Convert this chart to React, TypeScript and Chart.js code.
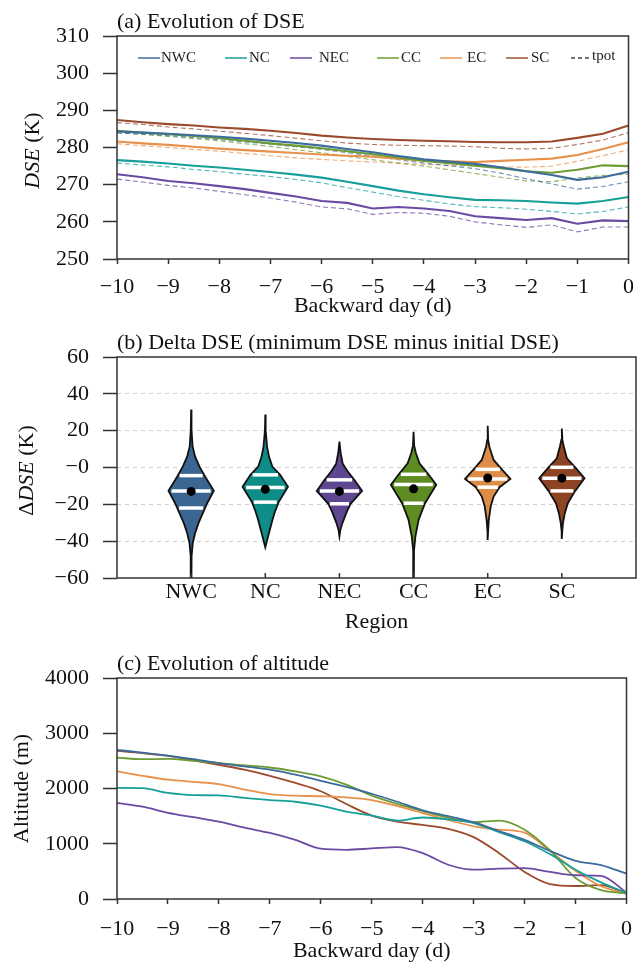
import React, { useEffect, useRef } from 'react';
import { Chart, registerables } from 'chart.js';

Chart.register(...registerables);

const SERIF = '"Liberation Serif", "Times New Roman", Times, serif';
Chart.defaults.font.family = SERIF;
Chart.defaults.color = '#111';

// ---------------- data ----------------
const DAYS = [-10, -9.5, -9, -8.5, -8, -7.5, -7, -6.5, -6, -5.5, -5, -4.5, -4, -3.5, -3, -2.5, -2, -1.5, -1, -0.5, 0];
const REGIONS = ['NWC', 'NC', 'NEC', 'CC', 'EC', 'SC'];

const DSE_NWC = [284.3, 284.0, 283.7, 283.3, 282.9, 282.4, 281.8, 281.2, 280.5, 279.6, 278.7, 277.7, 276.8, 276.2, 275.6, 274.7, 273.6, 272.6, 271.3, 272.0, 273.5];
const DSE_NC = [276.6, 276.2, 275.7, 275.1, 274.6, 274.0, 273.4, 272.7, 271.9, 270.8, 269.6, 268.4, 267.4, 266.6, 265.9, 265.8, 265.6, 265.2, 264.9, 265.6, 266.7];
const DSE_NEC = [272.8, 272.0, 271.0, 270.4, 269.6, 268.8, 267.8, 266.8, 265.6, 265.1, 263.6, 264.0, 263.6, 262.9, 261.5, 261.0, 260.5, 261.0, 259.5, 260.4, 260.2];
const DSE_CC = [284.5, 284.0, 283.6, 283.1, 282.5, 281.8, 281.1, 280.5, 279.8, 279.0, 278.2, 277.3, 276.4, 275.8, 275.1, 274.4, 273.6, 273.2, 274.0, 275.2, 275.0];
const DSE_EC = [281.6, 281.1, 280.7, 280.2, 279.7, 279.3, 278.9, 278.5, 278.1, 277.8, 277.5, 277.0, 276.5, 276.3, 276.1, 276.4, 276.7, 277.0, 278.0, 279.6, 281.4];
const DSE_SC = [287.4, 286.8, 286.3, 285.9, 285.4, 285.0, 284.5, 283.9, 283.2, 282.7, 282.3, 282.0, 281.8, 281.7, 281.5, 281.4, 281.4, 281.6, 282.6, 283.7, 285.9];

const TPOT_NWC = [283.9, 283.6, 283.2, 282.7, 282.1, 281.5, 280.9, 280.2, 279.5, 278.6, 277.7, 276.7, 275.8, 275.1, 274.3, 273.1, 271.6, 270.2, 268.8, 269.5, 270.8];
const TPOT_NC = [275.8, 275.3, 274.8, 274.1, 273.5, 272.8, 272.2, 271.4, 270.5, 269.2, 268.0, 266.8, 265.8, 264.8, 264.1, 263.8, 263.4, 262.8, 262.1, 262.8, 264.0];
const TPOT_NEC = [271.5, 270.7, 269.8, 269.1, 268.2, 267.3, 266.4, 265.3, 264.0, 263.5, 262.0, 262.5, 262.3, 261.5, 260.0, 259.2, 258.5, 259.2, 257.3, 258.6, 258.6];
const TPOT_CC = [284.0, 283.5, 283.0, 282.4, 281.8, 281.0, 280.3, 279.4, 278.6, 277.6, 276.7, 275.8, 275.0, 274.0, 273.0, 272.0, 271.0, 270.8, 271.8, 272.5, 272.8];
const TPOT_EC = [281.0, 280.5, 280.0, 279.5, 279.0, 278.4, 277.8, 277.2, 276.8, 276.4, 276.1, 275.8, 275.5, 275.2, 275.0, 274.8, 274.7, 275.0, 276.3, 277.8, 279.4];
const TPOT_SC = [286.7, 286.2, 285.5, 285.0, 284.4, 283.8, 283.2, 282.5, 281.8, 281.2, 280.8, 280.6, 280.5, 280.4, 280.2, 279.8, 279.6, 279.8, 280.8, 282.0, 284.0];

const ALT_NWC = [2700, 2650, 2595, 2530, 2460, 2400, 2340, 2250, 2140, 2030, 1905, 1760, 1605, 1500, 1390, 1230, 1070, 870, 690, 615, 460];
const ALT_NC = [2010, 2005, 1920, 1880, 1875, 1830, 1790, 1760, 1690, 1580, 1510, 1420, 1475, 1440, 1375, 1210, 1045, 810, 530, 300, 110];
const ALT_NEC = [1740, 1670, 1560, 1480, 1400, 1290, 1195, 1070, 910, 890, 915, 940, 830, 620, 530, 550, 560, 490, 430, 420, 115];
const ALT_CC = [2560, 2530, 2535, 2500, 2460, 2420, 2380, 2310, 2220, 2070, 1870, 1720, 1590, 1470, 1390, 1420, 1255, 880, 380, 160, 100];
const ALT_EC = [2310, 2230, 2160, 2120, 2080, 1980, 1900, 1870, 1860, 1840, 1790, 1680, 1555, 1430, 1315, 1255, 1200, 870, 510, 230, 95];
const ALT_SC = [2680, 2640, 2590, 2510, 2430, 2340, 2230, 2100, 1950, 1720, 1510, 1400, 1340, 1270, 1120, 830, 490, 270, 235, 250, 95];

// violin profiles: [ΔDSE value, half width in category units]
const VIOLIN_NWC = [[31.5, 0], [20.3, 0.005], [11.3, 0.02], [5.9, 0.054], [0.5, 0.113], [-5, 0.189], [-12.7, 0.306], [-19.4, 0.216], [-24.8, 0.158], [-30.2, 0.099], [-35.6, 0.054], [-41, 0.022], [-48.3, 0.006], [-62, 0.004]];
const VIOLIN_NC = [[28.8, 0], [20, 0.005], [11.3, 0.024], [5.9, 0.05], [0.5, 0.095], [-4, 0.2], [-10.4, 0.306], [-18.8, 0.18], [-24, 0.13], [-28.4, 0.097], [-35.6, 0.05], [-41, 0.015], [-43.4, 0]];
const VIOLIN_NEC = [[14, 0], [8, 0.016], [2, 0.045], [-2, 0.11], [-6.7, 0.2], [-12.7, 0.306], [-19.7, 0.15], [-24, 0.1], [-30.2, 0.04], [-34, 0.012], [-37.4, 0]];
const VIOLIN_CC = [[19.4, 0], [12, 0.008], [8, 0.03], [2.3, 0.08], [-3.7, 0.2], [-9.4, 0.306], [-19.4, 0.155], [-24, 0.11], [-28.4, 0.068], [-37.4, 0.025], [-45, 0.006], [-62, 0.004]];
const VIOLIN_EC = [[22.7, 0], [15, 0.006], [11.3, 0.022], [4.1, 0.08], [-1, 0.19], [-6.2, 0.306], [-10.7, 0.16], [-15.8, 0.08], [-21.2, 0.04], [-28.4, 0.015], [-35, 0.005], [-38.9, 0]];
const VIOLIN_SC = [[21.2, 0], [15, 0.007], [11.3, 0.027], [5, 0.068], [0.1, 0.18], [-5.8, 0.306], [-12.7, 0.18], [-19.4, 0.08], [-24.8, 0.04], [-30.2, 0.015], [-35, 0.005], [-38.3, 0]];

const Q_UPPER = [-4.4, -4, -6.7, -3.7, -1, 0.1];
const Q_MEDIAN = [-12.7, -10.8, -12.7, -9.2, -6.2, -5.8];
const Q_LOWER = [-22, -18.8, -19.7, -19.4, -10.7, -12.7];
const MEANS = [-13, -11.8, -13, -11.6, -5.7, -5.8];

// ---------------- styles ----------------
const LINE_COLORS = ['#3c6c9c', '#17a09a', '#6a4aa2', '#6c9c32', '#e8914b', '#9b4a2b'];
const DASH_COLORS = ['rgba(60,108,156,0.75)', 'rgba(23,160,154,0.75)', 'rgba(106,74,162,0.75)', 'rgba(108,156,50,0.75)', 'rgba(232,145,75,0.75)', 'rgba(155,74,43,0.75)'];
const LEGEND_COLORS = ['#6f93b8', '#56b8b3', '#8f78b8', '#92b866', '#efb27f', '#b47c62'];
const VIOLIN_COLORS = ['#3a6691', '#0e8c88', '#5e4690', '#5e8c22', '#dd8d48', '#8d4422'];

const DSE = [DSE_NWC, DSE_NC, DSE_NEC, DSE_CC, DSE_EC, DSE_SC];
const TPOT = [TPOT_NWC, TPOT_NC, TPOT_NEC, TPOT_CC, TPOT_EC, TPOT_SC];
const ALT = [ALT_NWC, ALT_NC, ALT_NEC, ALT_CC, ALT_EC, ALT_SC];
const VIOLINS = [VIOLIN_NWC, VIOLIN_NC, VIOLIN_NEC, VIOLIN_CC, VIOLIN_EC, VIOLIN_SC];

const font = (size: number, italic = false) => `${italic ? 'italic ' : ''}${size}px ${SERIF}`;
const minus = (v: any) => String(v).replace('-', '\u2212');
const pts = (arr: number[]) => DAYS.map((d, k) => ({ x: d, y: arr[k] }));

function widthAt(profile: number[][], v: number) {
  for (let k = 0; k < profile.length - 1; k++) {
    const [v1, w1] = profile[k];
    const [v2, w2] = profile[k + 1];
    if (v <= v1 && v >= v2) return w1 + ((w2 - w1) * (v - v1)) / (v2 - v1);
  }
  return 0;
}

type TitlePart = { t: string; i?: boolean };

function decor(cfg: { title: string; yTitle: TitlePart[]; yTitleX: number; yTitleDy?: number; innerXTicks?: boolean; legend?: boolean }) {
  return {
    id: 'decor',
    afterDraw(chart: any) {
      const { ctx, chartArea: a } = chart;
      ctx.save();
      ctx.strokeStyle = '#333';
      ctx.lineWidth = 1.5;
      ctx.setLineDash([]);
      ctx.strokeRect(a.left, a.top, a.right - a.left, a.bottom - a.top);
      if (cfg.innerXTicks) {
        const xs = chart.scales.x;
        xs.ticks.forEach((t: any) => {
          const px = xs.getPixelForValue(t.value);
          ctx.beginPath();
          ctx.moveTo(px, a.bottom);
          ctx.lineTo(px, a.bottom - 5);
          ctx.stroke();
        });
      }
      ctx.fillStyle = '#111';
      ctx.font = font(22);
      ctx.textAlign = 'left';
      ctx.textBaseline = 'middle';
      ctx.fillText(cfg.title, a.left, a.top - 14);
      ctx.save();
      ctx.translate(cfg.yTitleX, (a.top + a.bottom) / 2 + (cfg.yTitleDy || 0));
      ctx.rotate(-Math.PI / 2);
      let total = 0;
      const widths = cfg.yTitle.map((p) => {
        ctx.font = font(22, p.i);
        const w = ctx.measureText(p.t).width;
        total += w;
        return w;
      });
      let x = -total / 2;
      cfg.yTitle.forEach((p, k) => {
        ctx.font = font(22, p.i);
        ctx.fillText(p.t, x, 0);
        x += widths[k];
      });
      ctx.restore();
      if (cfg.legend) {
        const y = a.top + 22;
        const lineStarts = [21, 108, 173, 260, 323, 389];
        const textStarts = [44, 132, 202, 284, 350, 414];
        ctx.font = font(15);
        ctx.lineWidth = 2;
        REGIONS.forEach((r, k) => {
          ctx.strokeStyle = LEGEND_COLORS[k];
          ctx.beginPath();
          ctx.moveTo(a.left + lineStarts[k], y);
          ctx.lineTo(a.left + lineStarts[k] + 22, y);
          ctx.stroke();
          ctx.fillStyle = '#222';
          ctx.fillText(r, a.left + textStarts[k], y);
        });
        ctx.strokeStyle = '#444';
        ctx.lineWidth = 1.3;
        ctx.setLineDash([4, 3]);
        ctx.beginPath();
        ctx.moveTo(a.left + 454, y);
        ctx.lineTo(a.left + 473, y);
        ctx.stroke();
        ctx.setLineDash([]);
        ctx.fillText('tpot', a.left + 475, y - 2);
      }
      ctx.restore();
    },
  };
}

const yAxisBase = (min: number, max: number, step: number, cb: (v: any) => string = minus) => ({
  min,
  max,
  afterFit: (s: any) => {
    s.width = 117;
  },
  ticks: { stepSize: step, font: { size: 22 }, color: '#111', padding: 14, callback: cb },
  grid: { drawOnChartArea: false, tickLength: 14, tickColor: '#333', tickWidth: 1.5 },
  border: { display: false },
});

const xDayAxis = (height: number, pad: number) => ({
  type: 'linear',
  min: -10,
  max: 0,
  afterFit: (s: any) => {
    s.height = height;
  },
  ticks: { stepSize: 1, font: { size: 22 }, color: '#111', padding: pad, maxRotation: 0, autoSkip: false, callback: (v: any) => minus(v) },
  grid: { drawOnChartArea: false, tickLength: 5, tickColor: '#333', tickWidth: 1.5 },
  border: { display: false },
  title: { display: true, text: 'Backward day (d)', font: { size: 22, lineHeight: 1 }, color: '#111', padding: 0 },
});

const baseOpts = {
  responsive: false,
  animation: false,
  devicePixelRatio: 1,
  events: [],
};

function configA() {
  const datasets: any[] = [];
  REGIONS.forEach((r, i) => {
    datasets.push({ label: r, data: pts(DSE[i]), borderColor: LINE_COLORS[i], borderWidth: 2.1, pointRadius: 0, tension: 0, order: 1 });
    datasets.push({ label: r + ' tpot', data: pts(TPOT[i]), borderColor: DASH_COLORS[i], borderWidth: 1.1, borderDash: [5, 3], pointRadius: 0, tension: 0, order: 2 });
  });
  return {
    type: 'line',
    data: { datasets },
    options: {
      ...baseOpts,
      layout: { padding: { top: 36, right: 8, left: 0, bottom: 0 } },
      plugins: { legend: { display: false }, tooltip: { enabled: false } },
      scales: { x: xDayAxis(58, 10), y: yAxisBase(250, 310, 10) },
    },
    plugins: [decor({ title: '(a) Evolution of DSE', yTitle: [{ t: 'DSE', i: true }, { t: ' (K)' }], yTitleX: 33.5, yTitleDy: 3, legend: true })],
  };
}

function configB() {
  const datasets: any[] = [];
  VIOLINS.forEach((prof, i) => {
    const pos = i + 1;
    const right = prof.map(([v, w]) => ({ x: pos + w, y: v }));
    const left = prof.slice().reverse().map(([v, w]) => ({ x: pos - w, y: v }));
    datasets.push({
      data: right.concat(left),
      borderColor: '#111',
      borderWidth: 1.8,
      backgroundColor: VIOLIN_COLORS[i],
      fill: 'shape',
      pointRadius: 0,
      tension: 0,
      order: 3,
    });
    [Q_UPPER[i], Q_MEDIAN[i], Q_LOWER[i]].forEach((q) => {
      const w = widthAt(prof, q) * 0.86;
      datasets.push({ data: [{ x: pos - w, y: q }, { x: pos + w, y: q }], borderColor: '#ffffff', borderWidth: 3.5, pointRadius: 0, fill: false, order: 2 });
    });
  });
  datasets.push({
    data: MEANS.map((m, i) => ({ x: i + 1, y: m })),
    showLine: false,
    pointRadius: 4.5,
    pointBackgroundColor: '#000',
    pointBorderColor: '#000',
    pointBorderWidth: 0,
    order: 1,
  });
  const yAx: any = yAxisBase(-60, 60, 20, (v: any) => (v === 0 ? '\u22120' : minus(v)));
  yAx.grid = {
    drawOnChartArea: true,
    tickLength: 14,
    tickColor: '#333',
    tickWidth: 1.5,
    color: (c: any) => (c.tick && Math.abs(c.tick.value) === 60 ? 'rgba(0,0,0,0)' : '#cfcfcf'),
    lineWidth: 1,
  };
  yAx.border = { display: false, dash: [4, 4] };
  return {
    type: 'line',
    data: { datasets },
    options: {
      ...baseOpts,
      layout: { padding: { top: 40, right: 8, left: 0, bottom: 0 } },
      plugins: { legend: { display: false }, tooltip: { enabled: false } },
      scales: {
        x: {
          type: 'linear',
          min: 0,
          max: 7,
          afterFit: (s: any) => {
            s.height = 55;
          },
          afterBuildTicks: (s: any) => {
            s.ticks = REGIONS.map((_, i) => ({ value: i + 1 }));
          },
          ticks: { font: { size: 22 }, color: '#111', padding: 1, maxRotation: 0, autoSkip: false, callback: (v: any) => REGIONS[Math.round(v) - 1] || '' },
          grid: { drawOnChartArea: false, drawTicks: false },
          border: { display: false },
          title: { display: true, text: 'Region', font: { size: 22, lineHeight: 1 }, color: '#111', padding: 0 },
        },
        y: yAx,
      },
    },
    plugins: [decor({ title: '(b) Delta DSE (minimum DSE minus initial DSE)', yTitle: [{ t: '\u0394' }, { t: 'DSE', i: true }, { t: ' (K)' }], yTitleX: 27, yTitleDy: 3, innerXTicks: true })],
  };
}

function configC() {
  const datasets = REGIONS.map((r, i) => ({
    label: r,
    data: pts(ALT[i]),
    borderColor: LINE_COLORS[i],
    borderWidth: 1.8,
    pointRadius: 0,
    cubicInterpolationMode: 'monotone',
  }));
  return {
    type: 'line',
    data: { datasets },
    options: {
      ...baseOpts,
      layout: { padding: { top: 45, right: 8, left: 0, bottom: 0 } },
      plugins: { legend: { display: false }, tooltip: { enabled: false } },
      scales: { x: xDayAxis(63, 12), y: yAxisBase(0, 4000, 1000) },
    },
    plugins: [decor({ title: '(c) Evolution of altitude', yTitle: [{ t: 'Altitude (m)' }], yTitleX: 22.5 })],
  };
}

function Panel({ top, height, make }: { top: number; height: number; make: () => any }) {
  const ref = useRef<HTMLCanvasElement | null>(null);
  useEffect(() => {
    const chart = new Chart(ref.current as HTMLCanvasElement, make());
    return () => chart.destroy();
  }, []);
  return <canvas ref={ref} width={644} height={height} style={{ position: 'absolute', left: 0, top, width: 644, height }} />;
}

export default function App() {
  return (
    <div style={{ position: 'absolute', left: 0, top: 0, width: 644, height: 962, background: '#fff', overflow: 'hidden' }}>
      <Panel top={0} height={317} make={configA} />
      <Panel top={317} height={316} make={configB} />
      <Panel top={633} height={329} make={configC} />
    </div>
  );
}
